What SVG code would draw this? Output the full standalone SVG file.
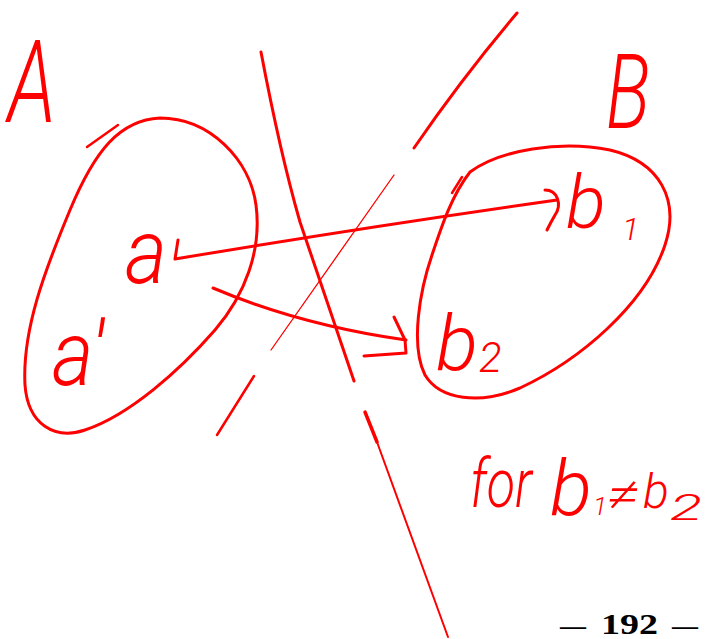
<svg xmlns="http://www.w3.org/2000/svg" width="705" height="639" viewBox="0 0 705 639">
<style>
.ink{fill:none;stroke:#ff0000;stroke-linecap:round;stroke-linejoin:round}
.hw{font-family:Roboto,"DejaVu Sans",sans-serif;font-style:italic;font-weight:300;fill:#ff0000}
.pg{font-family:"Liberation Serif","DejaVu Serif",serif;font-weight:bold;fill:#000}
</style>
<rect width="705" height="639" fill="#fff"/>
<g id="setA">
<path class="ink" stroke-width="3" d="M160,118 C120,120 95,150 70,210 C45,270 22,330 25,385 C28,425 55,440 85,430 C130,415 180,370 215,330 C245,295 262,250 256,205 C250,160 210,118 160,118 Z"/>
<path class="ink" stroke-width="2.5" d="M87,147 L118,125"/>
<text class="hw" x="8" y="122" font-size="115" textLength="48" lengthAdjust="spacingAndGlyphs">A</text>
<text class="hw" x="125" y="283" font-size="90" textLength="42" lengthAdjust="spacingAndGlyphs">a</text>
<text class="hw" x="52" y="385" font-size="90" textLength="52" lengthAdjust="spacingAndGlyphs">a′</text>
</g>
<g id="setB">
<path class="ink" stroke-width="3" d="M470,172 C500,150 560,140 610,150 C660,162 680,200 665,245 C645,305 580,360 520,388 C480,405 440,400 425,375 C410,345 420,290 432,255 C442,225 452,195 470,172 Z"/>
<path class="ink" stroke-width="2.5" d="M452,193 L462,177"/>
<text class="hw" x="606" y="128" font-size="104" textLength="44" lengthAdjust="spacingAndGlyphs">B</text>
<text class="hw" x="566" y="228" font-size="74">b</text>
<text class="hw" x="622" y="240" font-size="32">1</text>
<text class="hw" x="436" y="370" font-size="78">b</text>
<text class="hw" x="479" y="372" font-size="42">2</text>
</g>
<g id="lines">
<path class="ink" stroke-width="3" d="M261,52 C272,110 285,170 300,222 L354,381"/>
<path class="ink" stroke-width="3.5" d="M365,412 L377,442"/>
<path class="ink" stroke-width="2" d="M377,442 L448,637"/>
<path class="ink" stroke-width="3" d="M517,13 Q462,78 414,148"/>
<path class="ink" stroke-width="1.3" d="M394,175 L271,350"/>
<path class="ink" stroke-width="2.5" d="M254,376 L217,435"/>
</g>
<g id="connectors">
<path class="ink" stroke-width="3" d="M178,240 L175,259 Q360,228 557,200"/>
<path class="ink" stroke-width="3" d="M545,190 C558,190 562,205 555,215 C551,222 548,228 547,230"/>
<path class="ink" stroke-width="3" d="M213,288 Q300,325 406,340"/>
<path class="ink" stroke-width="3" d="M394,317 L405,340 L406,353 L364,356"/>
</g>
<g id="note">
<text class="hw" x="470" y="507" font-size="68" textLength="62" lengthAdjust="spacingAndGlyphs">for</text>
<text class="hw" x="550" y="515" font-size="78">b</text>
<text class="hw" x="593" y="515" font-size="26">1</text>
<text class="hw" x="606" y="512" font-size="52" textLength="34" lengthAdjust="spacingAndGlyphs">≠</text>
<text class="hw" x="643" y="508" font-size="48">b</text>
<text class="hw" x="670" y="520" font-size="36" textLength="32" lengthAdjust="spacingAndGlyphs">2</text>
</g>
<g id="page">
<text class="pg" x="560" y="634" font-size="26">—</text>
<text class="pg" x="601" y="634" font-size="29" textLength="57" lengthAdjust="spacingAndGlyphs">192</text>
<text class="pg" x="672" y="634" font-size="26">—</text>
</g>
</svg>
